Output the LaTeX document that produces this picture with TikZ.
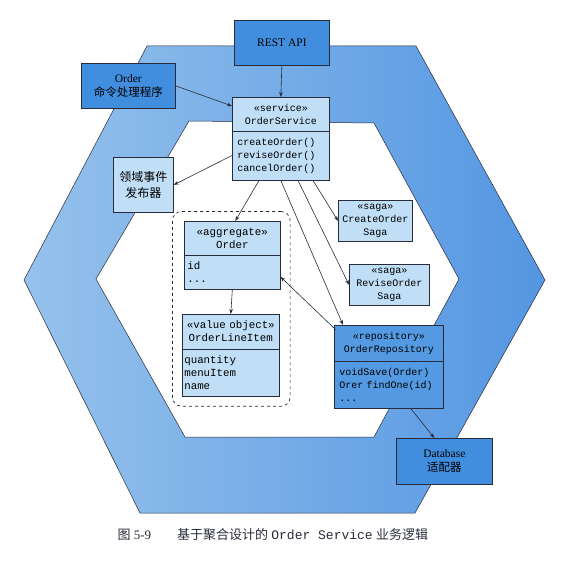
\documentclass[tikz,border=0pt]{standalone}
\usepackage{fontspec}
\setmainfont{Liberation Serif}
\setmonofont{Liberation Mono}
\newfontfamily\cjk{Noto Sans CJK SC}
\usetikzlibrary{arrows.meta}
\usetikzlibrary{shapes.multipart}
\usetikzlibrary{fit}
\usetikzlibrary{calc}

\definecolor{ringlight}{RGB}{150,194,236}
\definecolor{ringdark}{RGB}{84,150,226}
\definecolor{darkbox}{RGB}{66,142,222}
\definecolor{lightbox}{RGB}{192,222,245}
\definecolor{repobox}{RGB}{84,154,226}
\definecolor{edge}{RGB}{40,44,58}

\tikzset{
  port/.style={draw=edge, line width=0.7pt, fill=darkbox, align=center,
    font=\fontsize{11.5}{14}\selectfont},
  uml/.style={rectangle split, rectangle split parts=2, draw=edge, line width=0.6pt,
    fill=lightbox, font=\ttfamily\fontsize{10}{13}\selectfont,
    inner xsep=5pt, inner ysep=6.5pt},
  saga/.style={draw=edge, line width=0.6pt, fill=lightbox, align=center,
    font=\ttfamily\fontsize{10}{13}\selectfont, inner sep=3pt},
  link/.style={draw=edge, line width=0.6pt, -{Stealth[length=5pt,width=3.6pt]}},
  group/.style={draw=edge, dashed, rounded corners=9pt, line width=0.7pt}
}

\begin{document}
\begin{tikzpicture}[x=1pt, y=-1pt]
  \fill[white] (0,0) rectangle (569,567);
  \useasboundingbox (0,0) rectangle (569,567);

  % the hexagonal ring
  \path[draw=edge, line width=0.5pt, even odd rule, left color=ringlight, right color=ringdark]
    (147,46) -- (416,46) -- (545,280) -- (415,513) -- (140,513) -- (24,280) -- cycle
    (189,121) -- (374,123) -- (459,279) -- (374,437) -- (185,437) -- (96,279) -- cycle;

  % adapters on the ring
  \node[port, minimum width=95pt, minimum height=45pt, anchor=north west] (rest) at (234,20) {REST API};
  \node[port, minimum width=94pt, minimum height=45pt, anchor=north west] (hand) at (81,63)
    {Order\\{\cjk 命令处理程序}};
  \node[port, fill=lightbox, font=\cjk\fontsize{12}{16}\selectfont, minimum width=60pt,
    minimum height=55pt, anchor=north west] (pub) at (113,157) {领域事件\\发布器};
  \node[port, minimum width=96pt, minimum height=46pt, anchor=north west] (db) at (396,438)
    {Database\\{\cjk 适配器}};

  % business logic
  \node[uml, text width=87pt, anchor=north west] (svc) at (232,97)
    {\centering «service»\\OrderService\par
     \nodepart{two}createOrder()\\reviseOrder()\\cancelOrder()};
  \node[uml, font=\ttfamily\fontsize{10.8}{13}\selectfont, inner xsep=3pt, text width=90pt,
    anchor=north west] (agg) at (184,221)
    {\centering «aggregate»\\Order\par
     \nodepart{two}id\\...};
  \node[uml, font=\ttfamily\fontsize{10.8}{13}\selectfont, inner xsep=2pt, text width=93pt,
    anchor=north west] (item) at (182,314)
    {\centering «value object»\\OrderLineItem\par
     \nodepart{two}quantity\\menuItem\\name};
  \node[uml, fill=repobox, text width=99pt, anchor=north west] (repo) at (334,325)
    {\centering «repository»\\OrderRepository\par
     \nodepart{two}voidSave(Order)\\Orer findOne(id)\\...};
  \node[saga, minimum width=74pt, minimum height=41pt, anchor=north west] (csaga) at (338,200)
    {«saga»\\CreateOrder\\Saga};
  \node[saga, minimum width=80pt, minimum height=41pt, anchor=north west] (rsaga) at (349,264)
    {«saga»\\ReviseOrder\\Saga};
  \node[group, fit=(agg)(item), inner sep=9.5pt] (aggr) {};

  % connectors
  \draw[link] (rest.south) -- (svc.north);
  \draw[link] (hand.east) -- ($(svc.north west)+(0,9)$);
  \draw[link] ($(svc.south west)+(0,-25)$) -- (pub.east);
  \draw[link] ($(svc.south west)+(27,0)$) -- ($(agg.north)+(3,0)$);
  \draw[link] ($(svc.south west)+(81,0)$) -- (csaga.west);
  \draw[link] ($(svc.south west)+(66,0)$) -- (rsaga.west);
  \draw[link] (svc.south) -- ($(repo.north west)+(9,0)$);
  \draw[link] ($(repo.north west)+(2,5)$) -- ($(agg.south east)+(0,-13)$);
  \draw[link] (agg.south) -- (item.north);
  \draw[link] ($(repo.south east)+(-33,0)$) -- ($(db.north)+(-10,0)$);

  % caption
  \node[anchor=west, text=edge, font=\fontsize{13}{15}\selectfont] (cap) at (114,535)
    {{\cjk 图}\ 5-9\hspace{2em}{\cjk 基于聚合设计的}\ \texttt{Order Service}\ {\cjk 业务逻辑}};
\end{tikzpicture}
\end{document}
